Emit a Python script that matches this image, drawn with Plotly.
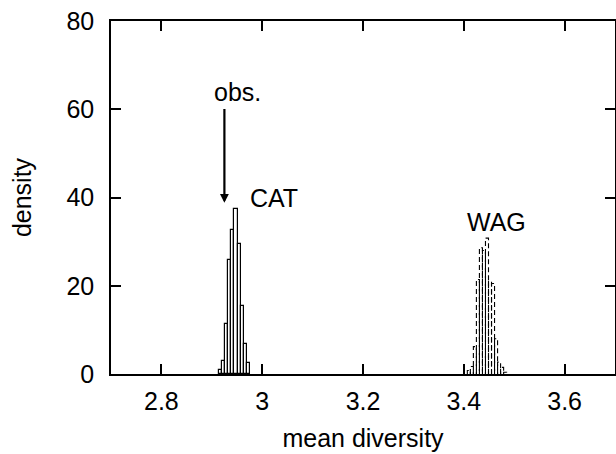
import plotly.graph_objects as go

# ---- data ----
bin_width = 0.006
cat_start = 2.915
cat_density = [1.0, 2.9, 11.4, 25.9, 32.6, 37.3, 29.4, 15.5, 6.9, 2.4]
wag_start = 3.407
wag_density = [0.8, 1.7, 6.2, 21.4, 28.6, 28.0, 30.8, 21.0, 20.5, 8.0, 2.7, 1.5, 0.4]

x_ticks = [2.8, 3.0, 3.2, 3.4, 3.6]
x_ticklabels = ["2.8", "3", "3.2", "3.4", "3.6"]
y_ticks = [0, 20, 40, 60, 80]

obs_value = 2.925
cat_label = ("CAT", 3.023, 39.9)
wag_label = ("WAG", 3.464, 34.4)

FONT = "Liberation Sans, Arial, Helvetica, sans-serif"
FS = 25

fig = go.Figure()

cat_centers = [cat_start + (i + 0.5) * bin_width for i in range(len(cat_density))]
fig.add_trace(go.Bar(
    x=cat_centers, y=cat_density, width=bin_width,
    marker=dict(color="white", line=dict(color="black", width=1.2)),
    showlegend=False, hoverinfo="skip",
))

# WAG outlined boxes with dashed lines
wx, wy = [], []
for i, h in enumerate(wag_density):
    x0 = wag_start + i * bin_width
    x1 = x0 + bin_width
    wx += [x0, x0, x1, x1, None]
    wy += [0, h, h, 0, None]
fig.add_trace(go.Scatter(
    x=wx, y=wy, mode="lines",
    line=dict(color="black", width=1.1, dash="5px,3px"),
    showlegend=False, hoverinfo="skip",
))

# arrow for observed
fig.add_annotation(
    x=obs_value, y=38.8, ax=obs_value, ay=60.4,
    xref="x", yref="y", axref="x", ayref="y",
    showarrow=True, arrowhead=2, arrowsize=0.8, arrowwidth=2.2,
    arrowcolor="black", text="",
)
fig.add_annotation(x=2.950, y=63.9, xref="x", yref="y", text="obs.",
                   showarrow=False, font=dict(family=FONT, size=FS, color="black"))
for txt, lx, ly in (cat_label, wag_label):
    fig.add_annotation(x=lx, y=ly, xref="x", yref="y", text=txt,
                       showarrow=False, font=dict(family=FONT, size=FS, color="black"))

axis_common = dict(
    showline=True, linecolor="black", linewidth=1.5, mirror="ticks",
    ticks="inside", ticklen=10, tickwidth=1.5, tickcolor="black",
    showgrid=False, zeroline=False, automargin=False,
    tickfont=dict(family=FONT, size=FS, color="black"),
)

fig.update_layout(
    template="none",
    width=616, height=454,
    margin=dict(l=111, r=1, t=21, b=80),
    paper_bgcolor="white", plot_bgcolor="white",
    barmode="overlay", bargap=0,
    xaxis=dict(range=[2.7, 3.7], tickvals=x_ticks, ticktext=x_ticklabels,
               title=dict(text="mean diversity", font=dict(family=FONT, size=FS, color="black"), standoff=16),
               ticklabelstandoff=4, **axis_common),
    yaxis=dict(range=[0, 80], tickvals=y_ticks,
               title=dict(text="density", font=dict(family=FONT, size=FS, color="black"), standoff=28),
               ticklabelstandoff=10, **axis_common),
)

fig.write_html("out.html",
               config={"displayModeBar": False},
               post_script="document.body.style.margin='0';document.body.style.overflow='hidden';")
